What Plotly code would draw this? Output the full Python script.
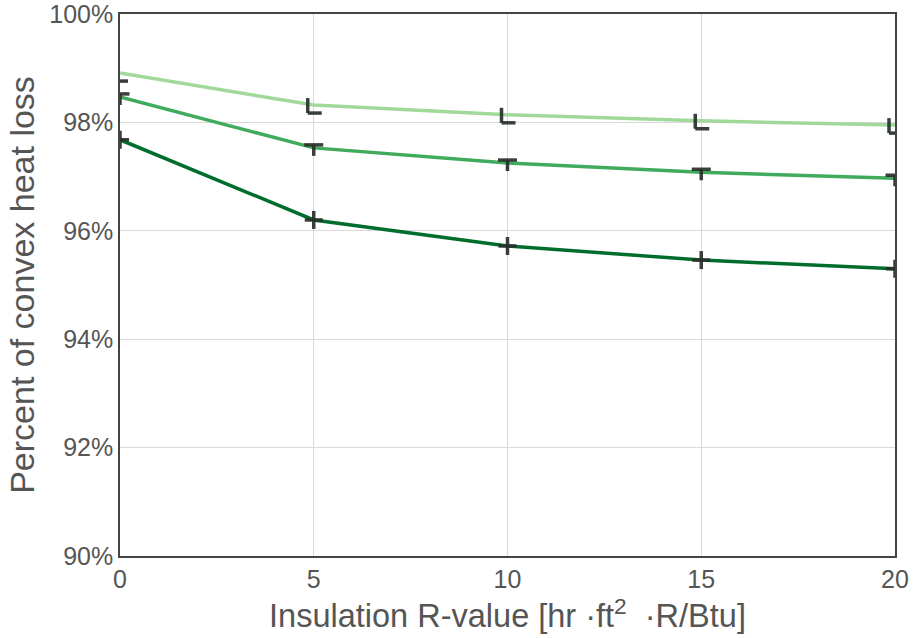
import plotly.graph_objects as go

x_vals = [0, 5, 10, 15, 20]
top_vals = [98.91, 98.32, 98.14, 98.03, 97.95]
mid_vals = [98.47, 97.53, 97.25, 97.08, 96.97]
low_vals = [97.68, 96.20, 95.72, 95.46, 95.30]

colors = ["#a1d99b", "#41ab5d", "#006d2c"]
mark_color = "rgba(40,48,42,0.92)"

# axis geometry for marker sizing (pixel -> data unit)
PX_X = 20 / 775.0
PX_Y = 10 / 542.0

fig = go.Figure()
for vals, c in zip([top_vals, mid_vals, low_vals], colors):
    fig.add_trace(go.Scatter(x=x_vals, y=vals, mode="lines",
                             line=dict(color=c, width=3.5), showlegend=False,
                             hoverinfo="skip"))

# L-shaped marks (top series)
fig.add_trace(go.Scatter(
    x=[v - 6 * PX_X for v in x_vals], y=[v - 8 * PX_Y for v in top_vals],
    mode="markers", marker=dict(size=1, opacity=0), showlegend=False,
    error_x=dict(type="data", symmetric=False, array=[14 * PX_X] * 5, arrayminus=[0] * 5,
                 width=0, thickness=3.5, color=mark_color),
    error_y=dict(type="data", symmetric=False, array=[15 * PX_Y] * 5, arrayminus=[0] * 5,
                 width=0, thickness=3.5, color=mark_color)))

# T-shaped marks (middle series)
fig.add_trace(go.Scatter(
    x=x_vals, y=[v + 3 * PX_Y for v in mid_vals],
    mode="markers", marker=dict(size=1, opacity=0), showlegend=False,
    error_x=dict(type="data", symmetric=True, array=[9.5 * PX_X] * 5,
                 width=0, thickness=3.5, color=mark_color),
    error_y=dict(type="data", symmetric=False, array=[0] * 5, arrayminus=[11 * PX_Y] * 5,
                 width=0, thickness=3.5, color=mark_color)))

# cross marks (lower series)
fig.add_trace(go.Scatter(
    x=x_vals, y=low_vals,
    mode="markers", marker=dict(size=1, opacity=0), showlegend=False,
    error_x=dict(type="data", symmetric=True, array=[9 * PX_X] * 5,
                 width=0, thickness=3.5, color=mark_color),
    error_y=dict(type="data", symmetric=True, array=[9 * PX_Y] * 5,
                 width=0, thickness=3.5, color=mark_color)))

axis_common = dict(showline=True, mirror=True, linecolor="#444", linewidth=1.5,
                   gridcolor="#d9d9d9", gridwidth=1, zeroline=False, ticks="",
                   automargin=False, ticklabeloverflow="allow",
                   tickfont=dict(size=25, color="#555"))

fig.update_layout(
    width=913, height=638,
    margin=dict(l=120, r=18, t=14, b=82),
    plot_bgcolor="white", paper_bgcolor="white",
    font=dict(family="Liberation Sans, Arial, sans-serif", color="#555"),
    xaxis=dict(range=[0, 20], dtick=5, tick0=0,
               title=dict(text="Insulation R-value [hr ·ft<sup>2</sup>  ·R/Btu]",
                          font=dict(size=32.5, color="#555"), standoff=6),
               **axis_common),
    yaxis=dict(range=[90, 100], dtick=2, tick0=90, ticksuffix="%",
               title=dict(text="Percent of convex heat loss",
                          font=dict(size=34, color="#555"), standoff=4),
               **axis_common),
)

fig.write_html("out.html",
               config={"displayModeBar": False},
               post_script="document.body.style.margin='0';document.body.style.overflow='hidden';")
